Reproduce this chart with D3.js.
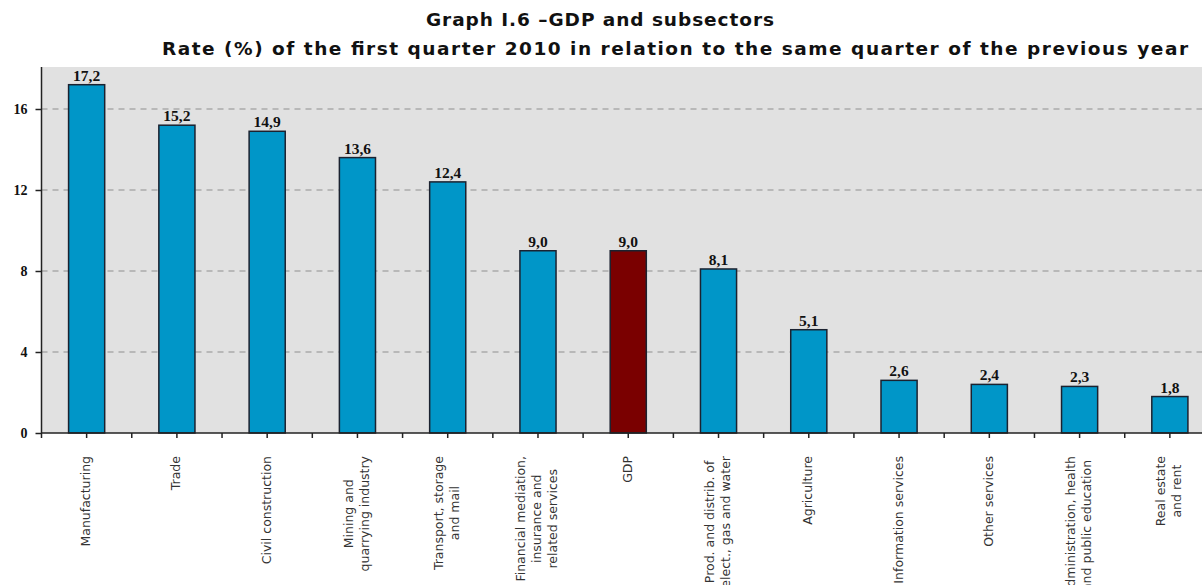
<!DOCTYPE html>
<html>
<head>
<meta charset="utf-8">
<script src="https://cdn.jsdelivr.net/npm/d3@7"></script>
<style>
  html, body { margin: 0; padding: 0; background: #ffffff; }
  svg { display: block; }
</style>
</head>
<body>
<svg id="chart" width="1202" height="585"></svg>
<script>
// Growth rate by sector, first quarter 2010 vs. first quarter 2009 (%)
const categories = [
  "Manufacturing",
  "Trade",
  "Civil construction",
  "Mining and|quarrying industry",
  "Transport, storage|and mail",
  "Financial mediation,|insurance and|related services",
  "GDP",
  "Prod. and distrib. of|elect., gas and water",
  "Agriculture",
  "Information services",
  "Other services",
  "Administration, health|and public education",
  "Real estate|and rent"
];
const values = [17.2, 15.2, 14.9, 13.6, 12.4, 9.0, 9.0, 8.1, 5.1, 2.6, 2.4, 2.3, 1.8];
const highlight = ["GDP"];
const yTicks = [0, 4, 8, 12, 16];
const titleLines = [
  "Graph I.6 \u2013GDP and subsectors",
  "Rate (%) of the first quarter 2010 in relation to the same quarter of the previous year"
];

const svg = d3.select("#chart");
const W = 1202;

const plot = { left: 41.5, top: 67, bottom: 433, right: 1215 };

const x = d3.scaleBand()
  .domain(categories)
  .range([plot.left, plot.right])
  .paddingInner(0.6)
  .paddingOuter(0.3);

const y = d3.scaleLinear()
  .domain([0, 18])
  .range([plot.bottom, plot.bottom - 18 * 20.25]);

const fmt = v => d3.format(".1f")(v).replace(".", ",");

// plot background
svg.append("rect")
  .attr("x", plot.left).attr("y", plot.top)
  .attr("width", W - plot.left).attr("height", plot.bottom - plot.top)
  .attr("fill", "#e1e1e1");

// dashed horizontal gridlines
svg.append("g")
  .selectAll("line")
  .data(yTicks.filter(t => t > 0))
  .join("line")
  .attr("x1", plot.left).attr("x2", W)
  .attr("y1", d => y(d)).attr("y2", d => y(d))
  .attr("stroke", "#8f8f8f")
  .attr("stroke-width", 1)
  .attr("stroke-dasharray", "6,5");

// bars
svg.append("g")
  .selectAll("rect")
  .data(categories.map((c, i) => ({ c, v: values[i] })))
  .join("rect")
  .attr("x", d => x(d.c))
  .attr("y", d => y(d.v))
  .attr("width", x.bandwidth())
  .attr("height", d => y(0) - y(d.v))
  .attr("fill", d => highlight.includes(d.c) ? "#7a0000" : "#0096c8")
  .attr("stroke", "#1b2230")
  .attr("stroke-width", 1.5);

// value labels
svg.append("g")
  .selectAll("text")
  .data(categories.map((c, i) => ({ c, v: values[i] })))
  .join("text")
  .attr("x", d => x(d.c) + x.bandwidth() / 2)
  .attr("y", d => y(d.v) - 4)
  .attr("text-anchor", "middle")
  .attr("font-family", "'Liberation Serif', 'Times New Roman', serif")
  .attr("font-weight", "bold")
  .attr("font-size", 15.5)
  .attr("fill", "#111")
  .text(d => fmt(d.v));

// y axis
const yAxis = svg.append("g")
  .attr("transform", `translate(${plot.left},0)`)
  .call(d3.axisLeft(y).tickValues(yTicks).tickSize(6).tickPadding(8).tickFormat(d3.format("d")));
yAxis.select(".domain").remove();
yAxis.selectAll(".tick line").attr("stroke", "#222").attr("stroke-width", 1.5);
yAxis.selectAll(".tick text")
  .attr("font-family", "'Liberation Serif', 'Times New Roman', serif")
  .attr("font-weight", "bold")
  .attr("font-size", 14)
  .attr("fill", "#111");

// axis lines
svg.append("line")
  .attr("x1", plot.left).attr("x2", plot.left)
  .attr("y1", plot.top).attr("y2", plot.bottom)
  .attr("stroke", "#222").attr("stroke-width", 1.5);
svg.append("line")
  .attr("x1", plot.left).attr("x2", W)
  .attr("y1", plot.bottom).attr("y2", plot.bottom)
  .attr("stroke", "#222").attr("stroke-width", 1.5);

// x ticks at band centres and band boundaries
const step = x.step();
const xTickPos = [];
categories.forEach(c => {
  const cx = x(c) + x.bandwidth() / 2;
  xTickPos.push(cx);
  xTickPos.push(cx - step / 2);
});
svg.append("g")
  .selectAll("line")
  .data(xTickPos)
  .join("line")
  .attr("x1", d => d).attr("x2", d => d)
  .attr("y1", plot.bottom).attr("y2", plot.bottom + 5)
  .attr("stroke", "#222").attr("stroke-width", 1.5);

// rotated category labels, multi-line blocks centred on each other
const labelTop = 456;
const lineGap = 16;
const labG = svg.append("g");
categories.forEach(c => {
  const lines = c.split("|");
  const cx = x(c) + x.bandwidth() / 2;
  const g = labG.append("g");
  const texts = lines.map((ln, i) => g.append("text")
    .attr("font-family", "'DejaVu Sans', Verdana, sans-serif")
    .attr("font-size", 12.5)
    .attr("fill", "#333")
    .attr("text-anchor", "middle")
    .text(ln));
  const maxLen = d3.max(texts, t => t.node().getComputedTextLength());
  const cy = labelTop + maxLen / 2;
  const n = lines.length;
  texts.forEach((t, i) => {
    const lx = cx + (i - (n - 1) / 2) * lineGap + 3.5;
    t.attr("transform", `translate(${lx},${cy}) rotate(-90)`);
  });
});

// titles
svg.append("text")
  .attr("x", 426).attr("y", 26)
  .attr("font-family", "'DejaVu Sans', Verdana, sans-serif")
  .attr("font-weight", "bold")
  .attr("font-size", 18.5)
  .attr("fill", "#111")
  .attr("textLength", 348)
  .attr("lengthAdjust", "spacing")
  .text(titleLines[0]);
svg.append("text")
  .attr("x", 162).attr("y", 55)
  .attr("font-family", "'DejaVu Sans', Verdana, sans-serif")
  .attr("font-weight", "bold")
  .attr("font-size", 18.5)
  .attr("fill", "#111")
  .attr("textLength", 1026)
  .attr("lengthAdjust", "spacing")
  .text(titleLines[1]);
</script>
</body>
</html>
